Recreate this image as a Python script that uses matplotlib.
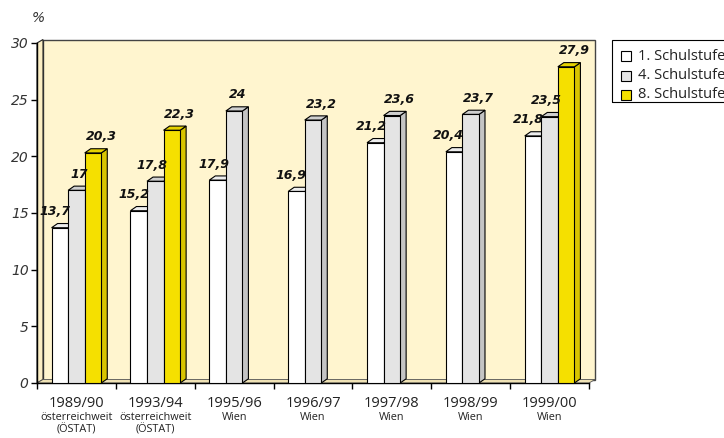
import matplotlib
matplotlib.use("Agg")
import matplotlib.pyplot as plt
from matplotlib.patches import Polygon, Rectangle
import numpy as np

# ---------------- data ----------------
categories = ["1989/90", "1993/94", "1995/96", "1996/97", "1997/98", "1998/99", "1999/00"]
sublabels = ["österreichweit\n(ÖSTAT)", "österreichweit\n(ÖSTAT)", "Wien", "Wien", "Wien", "Wien", "Wien"]
series_names = ["1. Schulstufe", "4. Schulstufe", "8. Schulstufe"]
stufe1 = [13.7, 15.2, 17.9, 16.9, 21.2, 20.4, 21.8]
stufe4 = [17.0, 17.8, 24.0, 23.2, 23.6, 23.7, 23.5]
stufe8 = [20.3, 22.3, None, None, None, None, 27.9]
y_ticks = [0, 5, 10, 15, 20, 25, 30]

# ---------------- style ----------------
W, H = 724, 438
front_colors = ["#FFFFFF", "#E4E4E4", "#F5E000"]
side_colors = ["#DADADA", "#C4C4C4", "#D8C400"]
top_colors = ["#EDEDED", "#CFCFCF", "#E6D200"]
wall_color = "#FFF5CF"
left_wall_color = "#FBEEC4"
floor_color = "#EFE2B5"
bar_w = 0.21
offsets = [-bar_w, 0.0, bar_w]
# label horizontal shift in pixels (per series, per category)
label_dx = [
    [-8, -8, -7, -8, -7, -9, -8],
    [0, -6, 1, 5, 5, 5, -6],
    [5, 5, 0, 0, 0, 0, 5],
]

fig = plt.figure(figsize=(W / 100, H / 100), dpi=100)
ax_left, ax_right, ax_bottom, ax_top = 37, 589, 383, 43
ax = fig.add_axes([ax_left / W, 1 - ax_bottom / H,
                   (ax_right - ax_left) / W, (ax_bottom - ax_top) / H])
ax.set_xlim(-0.5, len(categories) - 0.5)
ax.set_ylim(0, 30)
ax.patch.set_visible(False)

px_x = (ax_right - ax_left) / len(categories)   # pixels per x unit
px_y = (ax_bottom - ax_top) / 30.0               # pixels per y unit
wdx = 6.0 / px_x
wdy = 3.5 / px_y
bdx = 6.0 / px_x
bdy = 4.2 / px_y

x0, x1 = -0.5, len(categories) - 0.5
# back wall
ax.add_patch(Rectangle((x0 + wdx, wdy), x1 - x0, 30, facecolor=wall_color,
                       edgecolor="#444444", lw=1.0, clip_on=False, zorder=1))
# left wall
ax.add_patch(Polygon([(x0, 0), (x0 + wdx, wdy), (x0 + wdx, 30 + wdy), (x0, 30)],
                     closed=True, facecolor=left_wall_color, edgecolor="#222222",
                     lw=0.8, clip_on=False, zorder=2))
# floor
ax.add_patch(Polygon([(x0, 0), (x1, 0), (x1 + wdx, wdy), (x0 + wdx, wdy)],
                     closed=True, facecolor=floor_color, edgecolor="#555555",
                     lw=0.6, clip_on=False, zorder=2))

series = [stufe1, stufe4, stufe8]
z = 10
for i in range(len(categories)):
    for s, vals in enumerate(series):
        v = vals[i]
        if v is None:
            continue
        xl = i + offsets[s] - bar_w / 2
        xr = xl + bar_w
        side = Polygon([(xr, 0), (xr + bdx, bdy), (xr + bdx, v + bdy), (xr, v)],
                       closed=True, facecolor=side_colors[s], edgecolor="black",
                       lw=0.8, zorder=z, clip_on=False)
        top = Polygon([(xl, v), (xl + bdx, v + bdy), (xr + bdx, v + bdy), (xr, v)],
                      closed=True, facecolor=top_colors[s], edgecolor="black",
                      lw=0.8, zorder=z, clip_on=False)
        ax.add_patch(side)
        ax.add_patch(top)
        ax.bar(i + offsets[s], v, width=bar_w, color=front_colors[s],
               edgecolor="black", lw=0.8, zorder=z + 1)
        z += 2
        txt = f"{v:g}".replace(".", ",")
        ax.annotate(txt, xy=(i + offsets[s] + bdx / 2, v),
                    xytext=(label_dx[s][i] * 0.72, 9.5 * 0.72), textcoords="offset points",
                    ha="center", va="bottom", fontsize=9, fontweight="bold",
                    fontstyle="italic", family="DejaVu Sans", color="#111111",
                    zorder=100)

# axes styling
for sp in ["top", "right"]:
    ax.spines[sp].set_visible(False)
for sp in ["left", "bottom"]:
    ax.spines[sp].set_linewidth(1.0)
    ax.spines[sp].set_zorder(5)
ax.set_yticks(y_ticks)
ax.set_yticklabels([str(t) for t in y_ticks], fontstyle="italic", fontsize=10,
                   color="#333333", family="DejaVu Sans")
ax.tick_params(axis="y", direction="out", length=4, width=1, pad=2)
ax.set_xticks(np.arange(-0.5, len(categories), 1.0))
ax.set_xticklabels([])
ax.tick_params(axis="x", direction="out", length=4, width=1)

for i, (c, sub) in enumerate(zip(categories, sublabels)):
    ax.annotate(c, xy=(i, 0), xycoords=("data", "axes fraction"),
                xytext=(0, -9.5), textcoords="offset points", ha="center", va="top",
                fontsize=10.5, family="Open Sans", color="#222222")
    ax.annotate(sub, xy=(i, 0), xycoords=("data", "axes fraction"),
                xytext=(0, -21), textcoords="offset points", ha="center", va="top",
                fontsize=7.8, family="Open Sans", color="#222222",
                linespacing=1.12)

fig.text(38 / W, 1 - 18 / H, "%", ha="center", va="center", fontsize=10,
         fontstyle="italic", color="#333333", family="DejaVu Sans")

# legend (manual)
fig.add_artist(Rectangle((612 / W, 1 - 102 / H), 130 / W, 62 / H,
                         transform=fig.transFigure, fill=False, edgecolor="black",
                         lw=0.8))
row_y = [56, 75.5, 95]
for s, name in enumerate(series_names):
    yc = row_y[s]
    fig.add_artist(Rectangle((621 / W, 1 - (yc + 5) / H), 10 / W, 10 / H,
                             transform=fig.transFigure, facecolor=front_colors[s],
                             edgecolor="black", lw=0.8))
    fig.text(638 / W, 1 - yc / H, name, ha="left", va="center", fontsize=10.5,
             family="Open Sans", color="#222222")

fig.savefig("out.png", dpi=100)
